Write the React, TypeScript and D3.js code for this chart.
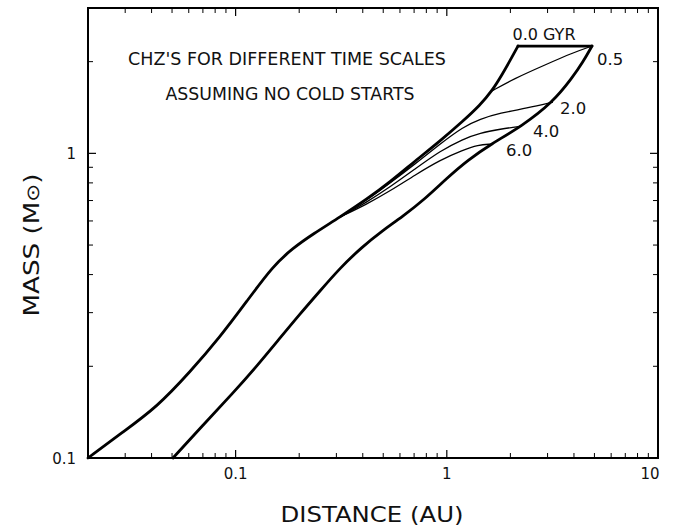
import React from "react";
import * as d3 from "d3";

// ---- data (distance in AU, mass in solar masses) ----
// 0.0 Gyr inner edge
const innerAU = [0.02, 0.02929, 0.04242, 0.06081, 0.08433, 0.1132, 0.1502, 0.1869, 0.2325, 0.312, 0.4188, 0.5381, 0.707, 0.9284, 1.1928, 1.436, 1.636, 1.845, 2.035, 2.173];
const innerMass = [0.1, 0.1217, 0.147, 0.1915, 0.2494, 0.3276, 0.4267, 0.4888, 0.5435, 0.6178, 0.7079, 0.805, 0.9434, 1.0975, 1.2764, 1.4403, 1.6015, 1.834, 2.07, 2.25];

// 0.0 Gyr outer edge
const outerAU = [0.05051, 0.07008, 0.09718, 0.1262, 0.1622, 0.2017, 0.2508, 0.312, 0.3966, 0.4932, 0.6134, 0.7882, 1.002, 1.259, 1.619, 2.27, 3.182, 3.915, 4.414, 4.869];
const outerMass = [0.1, 0.1283, 0.1634, 0.2004, 0.2475, 0.297, 0.3533, 0.4204, 0.4926, 0.5559, 0.6178, 0.7079, 0.8296, 0.9506, 1.0727, 1.229, 1.474, 1.766, 1.994, 2.25];

// upper mass limit of the 0.0 Gyr zone
const topAU = [2.173, 4.869];
const topMass = [2.25, 2.25];

// inner edges at later ages
const t05AU = [1.636, 2.057, 2.981, 3.915, 4.869];
const t05Mass = [1.6015, 1.753, 1.964, 2.134, 2.25];

const t2AU = [0.312, 0.4188, 0.5381, 0.707, 0.9284, 1.1928, 1.436, 1.786, 2.397, 3.182];
const t2Mass = [0.6178, 0.7024, 0.7989, 0.9225, 1.0727, 1.22, 1.296, 1.356, 1.408, 1.474];

const t4AU = [0.312, 0.4188, 0.5381, 0.707, 0.9284, 1.1928, 1.436, 1.786, 2.27];
const t4Mass = [0.6178, 0.692, 0.775, 0.8883, 1.0175, 1.114, 1.166, 1.201, 1.229];

const t6AU = [0.312, 0.4188, 0.5381, 0.707, 0.9284, 1.1928, 1.405, 1.619];
const t6Mass = [0.6178, 0.6817, 0.752, 0.8489, 0.9506, 1.025, 1.065, 1.0727];

const timeLabels = ["0.0 GYR", "0.5", "2.0", "4.0", "6.0"];

const xMajorTicks = [0.1, 1, 10];
const xMajorLabels = ["0.1", "1", "10"];
const yMajorTicks = [0.1, 1];
const yMajorLabels = ["0.1", "1"];
const xMinorTicks = [0.03, 0.04, 0.05, 0.06, 0.07, 0.08, 0.09, 0.2, 0.3, 0.4, 0.5, 0.6, 0.7, 0.8, 0.9, 2, 3, 4, 5, 6, 7, 8, 9];
const yMinorTicks = [0.2, 0.3, 0.4, 0.5, 0.6, 0.7, 0.8, 0.9, 2];

const titleLines = ["CHZ'S FOR DIFFERENT TIME SCALES", "ASSUMING NO COLD STARTS"];
const xTitle = "DISTANCE (AU)";

const W = 681, H = 529;
const L = 88, R = 658, T = 8, B = 458;
const FONT = "'DejaVu Sans', sans-serif";

export default function App() {
  const x = d3.scaleLog().domain([0.02, 10]).range([L, R]);
  const y = d3.scaleLog().domain([0.1, 3]).range([B, T]);

  const smooth = d3.line<[number, number]>()
    .x((d) => x(d[0]))
    .y((d) => y(d[1]))
    .curve(d3.curveBasis);
  const straight = d3.line<[number, number]>()
    .x((d) => x(d[0]))
    .y((d) => y(d[1]));

  const zip = (a: number[], m: number[]) => a.map((v, i) => [v, m[i]] as [number, number]);

  const thick = [zip(innerAU, innerMass), zip(outerAU, outerMass)];
  const thin = [zip(t05AU, t05Mass), zip(t2AU, t2Mass), zip(t4AU, t4Mass), zip(t6AU, t6Mass)];

  const ends = thin.map((pts) => pts[pts.length - 1]);
  const labelOffsets = [[5, 19], [7, 12], [11, 11], [15, 12]];

  return (
    <svg width={W} height={H} style={{ position: "absolute", left: 0, top: 0, background: "#fff" }} fontFamily={FONT}>
      <rect x={0} y={0} width={W} height={H} fill="#fff" />
      {/* ticks */}
      {xMinorTicks.map((v) => (
        <g key={"xm" + v} stroke="#000" strokeWidth={1}>
          <line x1={x(v)} x2={x(v)} y1={B} y2={B - 5} />
          <line x1={x(v)} x2={x(v)} y1={T} y2={T + 5} />
        </g>
      ))}
      {xMajorTicks.map((v) => (
        <g key={"xM" + v} stroke="#000" strokeWidth={1.2}>
          <line x1={x(v)} x2={x(v)} y1={B} y2={B - 8} />
          <line x1={x(v)} x2={x(v)} y1={T} y2={T + 8} />
        </g>
      ))}
      {yMinorTicks.map((v) => (
        <g key={"ym" + v} stroke="#000" strokeWidth={1}>
          <line x1={L} x2={L + 5} y1={y(v)} y2={y(v)} />
          <line x1={R} x2={R - 5} y1={y(v)} y2={y(v)} />
        </g>
      ))}
      {yMajorTicks.map((v) => (
        <g key={"yM" + v} stroke="#000" strokeWidth={1.2}>
          <line x1={L} x2={L + 8} y1={y(v)} y2={y(v)} />
          <line x1={R} x2={R - 8} y1={y(v)} y2={y(v)} />
        </g>
      ))}
      <rect x={L} y={T} width={R - L} height={B - T} fill="none" stroke="#000" strokeWidth={2} />

      {/* tick labels */}
      {xMajorTicks.map((v, i) => (
        <text key={"xl" + v} x={x(v) - (i === 2 ? 8 : 0)} y={B + 21} textAnchor="middle" fontSize={15} fill="#111">
          {xMajorLabels[i]}
        </text>
      ))}
      {yMajorTicks.map((v, i) => (
        <text key={"yl" + v} x={L - 12} y={y(v) + 6} textAnchor="end" fontSize={15} fill="#111">
          {yMajorLabels[i]}
        </text>
      ))}

      {/* axis titles */}
      <text x={372} y={522} textAnchor="middle" fontSize={22} fill="#111" textLength={183} lengthAdjust="spacingAndGlyphs">
        {xTitle}
      </text>
      <text transform="translate(39,245) rotate(-90)" textAnchor="middle" fontSize={22} fill="#111" textLength={143} lengthAdjust="spacingAndGlyphs">
        MASS (M<tspan fontSize={18}>⊙</tspan>)
      </text>

      {/* annotation */}
      <text x={287} y={65} textAnchor="middle" fontSize={17.5} fill="#111" textLength={318} lengthAdjust="spacingAndGlyphs">
        {titleLines[0]}
      </text>
      <text x={290} y={100} textAnchor="middle" fontSize={17.5} fill="#111" textLength={249} lengthAdjust="spacingAndGlyphs">
        {titleLines[1]}
      </text>

      {/* curves */}
      {thin.map((pts, i) => (
        <path key={"n" + i} d={smooth(pts) || ""} fill="none" stroke="#000" strokeWidth={1.3} />
      ))}
      {thick.map((pts, i) => (
        <path key={"t" + i} d={smooth(pts) || ""} fill="none" stroke="#000" strokeWidth={2.8} strokeLinejoin="round" strokeLinecap="round" />
      ))}
      <path d={straight(zip(topAU, topMass)) || ""} fill="none" stroke="#000" strokeWidth={2.8} strokeLinejoin="round" strokeLinecap="round" />

      {/* time labels */}
      <text x={(x(topAU[0]) + x(topAU[1])) / 2 - 11} y={y(topMass[0]) - 6} textAnchor="middle" fontSize={16} fill="#111">
        {timeLabels[0]}
      </text>
      {ends.map((e, i) => (
        <text key={"tl" + i} x={x(e[0]) + labelOffsets[i][0]} y={y(e[1]) + labelOffsets[i][1]} fontSize={16.5} fill="#111">
          {timeLabels[i + 1]}
        </text>
      ))}
    </svg>
  );
}
